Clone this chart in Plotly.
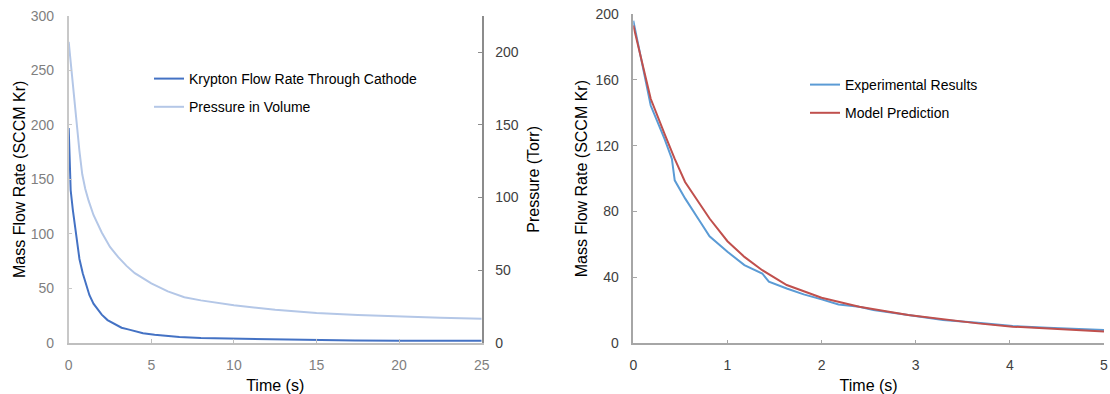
import plotly.graph_objects as go

# ---------------- Left chart data ----------------
flow_t = [0, 0.05, 0.12, 0.25, 0.45, 0.65, 0.85, 1.05, 1.25, 1.5, 1.7, 2.0, 2.35, 2.7,
          3.2, 3.6, 4.0, 4.5, 5.2, 6.0, 6.7, 8.0, 10.0, 12.5, 15.0, 17.3, 20.0, 25.0]
flow_sccm = [197, 170, 140, 122, 98, 77, 64, 53, 44, 36, 32, 26, 21, 18,
             14, 12.5, 11, 9, 7.6, 6.3, 5.5, 4.5, 4, 3, 2.8, 2.2, 2.1, 2]

press_t = [0, 0.1, 0.28, 0.5, 0.65, 0.82, 1.0, 1.2, 1.5, 2.0, 2.5, 3.0, 3.5, 4.0, 5.0,
           6.0, 7.0, 8.0, 10.0, 12.5, 15.0, 17.5, 20.0, 22.5, 25.0]
press_torr = [207, 195, 178, 152, 132, 116, 106, 98, 88, 76, 66, 59, 53, 48, 41,
              35.5, 31.5, 29.3, 26, 22.8, 20.6, 19.2, 18.1, 17.3, 16.6]

# ---------------- Right chart data ----------------
exp_t = [0, 0.185, 0.333, 0.41, 0.44, 0.55, 0.7, 0.81, 1.0, 1.18, 1.37, 1.44, 1.63,
         1.81, 2.0, 2.18, 2.4, 2.55, 2.92, 3.29, 3.66, 4.03, 4.4, 4.77, 5.0]
exp_sccm = [196, 144.4, 124, 112, 99, 88, 74.7, 65, 55.6, 47.5, 42.4, 37.4, 33.3,
            29.7, 26.7, 23.6, 22.2, 20.2, 17.2, 14.1, 12.5, 10.5, 9.5, 8.7, 8.1]

model_t = [0, 0.185, 0.333, 0.44, 0.55, 0.7, 0.81, 1.0, 1.18, 1.37, 1.63, 2.0, 2.4,
           2.92, 3.29, 3.66, 4.03, 4.4, 4.77, 5.0]
model_sccm = [193, 148.5, 127, 112, 98, 85, 75.8, 62, 52.5, 44.4, 35.4, 27.7, 22.2,
              17.2, 14.5, 12.1, 10.1, 9.1, 8.1, 7.1]

left_x_ticks = [0, 5, 10, 15, 20, 25]
left_y_ticks = [0, 50, 100, 150, 200, 250, 300]
right_y2_ticks = [0, 50, 100, 150, 200]
r_x_ticks = [0, 1, 2, 3, 4, 5]
r_y_ticks = [0, 40, 80, 120, 160, 200]

FONT = "Liberation Sans, Arial, sans-serif"
W, H = 1110, 394


def dx(px):  # page x pixel -> paper fraction
    return px / W


def dy(py):  # page y pixel -> paper fraction
    return (H - py) / H


fig = go.Figure()

fig.add_trace(go.Scatter(x=flow_t, y=flow_sccm, mode="lines",
                         name="Krypton Flow Rate Through Cathode",
                         line=dict(color="#4472C4", width=2),
                         xaxis="x", yaxis="y", legend="legend", legendgroup="a"))
fig.add_trace(go.Scatter(x=press_t, y=press_torr, mode="lines",
                         name="Pressure in Volume",
                         line=dict(color="#B4C7E7", width=2),
                         xaxis="x", yaxis="y2", legend="legend", legendgroup="b"))
fig.add_trace(go.Scatter(x=exp_t, y=exp_sccm, mode="lines",
                         name="Experimental Results",
                         line=dict(color="#5B9BD5", width=2),
                         xaxis="x3", yaxis="y3", legend="legend2", legendgroup="c"))
fig.add_trace(go.Scatter(x=model_t, y=model_sccm, mode="lines",
                         name="Model Prediction",
                         line=dict(color="#C0504D", width=2),
                         xaxis="x3", yaxis="y3", legend="legend2", legendgroup="d"))

ldom_x = [dx(68.7), dx(481.7)]
ldom_y = [dy(343), dy(15.7)]
rdom_x = [dx(633.3), dx(1104)]
rdom_y = [dy(343.3), dy(14)]

tickfont_gray = dict(family=FONT, size=14, color="#7f7f7f")
tickfont_dark = dict(family=FONT, size=14, color="#404040")
titlefont = dict(family=FONT, size=16, color="#000000")

fig.update_layout(
    width=W, height=H,
    margin=dict(l=0, r=0, t=0, b=0),
    paper_bgcolor="white", plot_bgcolor="white",
    font=dict(family=FONT, size=14, color="#000000"),
    xaxis=dict(domain=ldom_x, range=[0, 25], tickvals=left_x_ticks,
               showgrid=False, zeroline=False, showline=True, linecolor="#bfbfbf",
               linewidth=1.5, ticks="inside", ticklen=4, tickcolor="#bfbfbf",
               tickfont=tickfont_gray, ticklabelstandoff=8, ticklabeloverflow="allow",
               title=dict(text="Time (s)", font=titlefont, standoff=8),
               anchor="y", automargin=False),
    yaxis=dict(domain=ldom_y, range=[0, 300], tickvals=left_y_ticks,
               showgrid=False, zeroline=False, showline=True, linecolor="#c8c8c8",
               linewidth=1.5, ticks="inside", ticklen=4, tickcolor="#c8c8c8",
               tickfont=tickfont_gray, ticklabelstandoff=10, ticklabeloverflow="allow",
               title=dict(text="Mass Flow Rate (SCCM Kr)", font=titlefont, standoff=1),
               anchor="x", automargin=False),
    yaxis2=dict(domain=ldom_y, range=[0, 225], tickvals=right_y2_ticks,
                overlaying="y", side="right", anchor="x",
                showgrid=False, zeroline=False, showline=True, linecolor="#8c8c8c",
                linewidth=1.5, ticks="inside", ticklen=4, tickcolor="#8c8c8c",
                tickfont=tickfont_dark, ticklabelstandoff=9, ticklabeloverflow="allow",
                title=dict(text="Pressure (Torr)", font=titlefont, standoff=10),
                automargin=False),
    xaxis3=dict(domain=rdom_x, range=[0, 5], tickvals=r_x_ticks,
                showgrid=False, zeroline=False, showline=True, linecolor="#a6a6a6",
                linewidth=1.5, ticks="inside", ticklen=4, tickcolor="#a6a6a6",
                tickfont=tickfont_dark, ticklabelstandoff=8, ticklabeloverflow="allow",
                title=dict(text="Time (s)", font=titlefont, standoff=8),
                anchor="y3", automargin=False),
    yaxis3=dict(domain=rdom_y, range=[0, 200], tickvals=r_y_ticks,
                showgrid=False, zeroline=False, showline=True, linecolor="#a6a6a6",
                linewidth=1.5, ticks="inside", ticklen=4, tickcolor="#a6a6a6",
                tickfont=tickfont_dark, ticklabelstandoff=10, ticklabeloverflow="allow",
                title=dict(text="Mass Flow Rate (SCCM Kr)", font=titlefont, standoff=4),
                anchor="x3", automargin=False),
    legend=dict(x=149 / W, y=dy(63), xanchor="left", yanchor="top",
                bgcolor="rgba(0,0,0,0)", borderwidth=0, tracegroupgap=7,
                font=dict(family=FONT, size=14, color="#000000")),
    legend2=dict(x=805 / W, y=dy(69), xanchor="left", yanchor="top",
                 bgcolor="rgba(0,0,0,0)", borderwidth=0, tracegroupgap=7,
                 font=dict(family=FONT, size=14, color="#000000")),
)

fig.write_html("out.html",
               config={"displayModeBar": False},
               post_script="document.body.style.margin='0';document.body.style.overflow='hidden';")
